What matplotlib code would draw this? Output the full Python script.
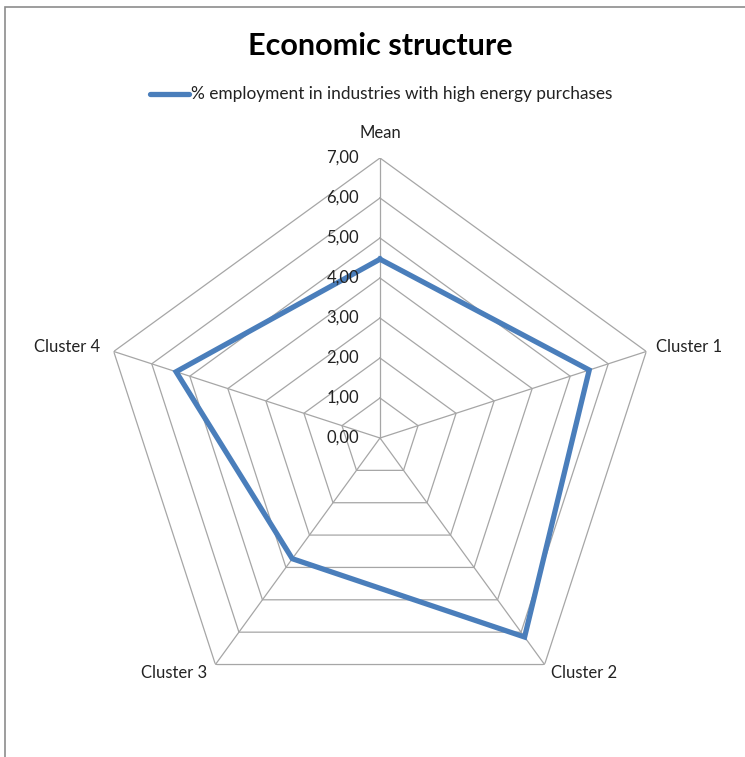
import numpy as np
import matplotlib
matplotlib.use("Agg")
import matplotlib.pyplot as plt
from matplotlib.patches import Rectangle

# Dati del grafico radar
categorie = ["Mean", "Cluster 1", "Cluster 2", "Cluster 3", "Cluster 4"]
valori = [4.47, 5.50, 6.15, 3.73, 5.36]
livelli = [0, 1, 2, 3, 4, 5, 6, 7]
etichette_livelli = ["0,00", "1,00", "2,00", "3,00", "4,00", "5,00", "6,00", "7,00"]
nome_serie = "% employment in industries with high energy purchases"
titolo = "Economic structure"

plt.rcParams['font.family'] = ['Lato', 'DejaVu Sans']

W, H = 745, 757
fig = plt.figure(figsize=(W / 100, H / 100), dpi=100)
fig.patch.set_facecolor("white")

# cornice del grafico (solo lato sinistro e superiore visibili)
fig.add_artist(Rectangle((5 / W, -0.05), 1.2, 1 - 7 / H + 0.05, transform=fig.transFigure,
                         fill=False, edgecolor="#8c8c8c", linewidth=1.2))

# assi polari centrati sul pentagono
cx, cy, r = 380, 438, 280
ax = fig.add_axes([(cx - r) / W, 1 - (cy + r) / H, 2 * r / W, 2 * r / H], projection="polar")
ax.set_theta_offset(np.pi / 2)
ax.set_theta_direction(-1)
ax.set_ylim(0, 7)
ax.grid(False)
ax.spines["polar"].set_visible(False)
ax.set_xticks([])
ax.set_yticks([])
ax.patch.set_alpha(0)

n = len(categorie)
angoli = np.linspace(0, 2 * np.pi, n, endpoint=False)
chiuso = np.append(angoli, angoli[0])

grigio = "#a6a6a6"
for liv in livelli[1:]:
    ax.plot(chiuso, [liv] * (n + 1), color=grigio, linewidth=0.9, zorder=1)
for a in angoli:
    ax.plot([a, a], [0, livelli[-1]], color=grigio, linewidth=0.9, zorder=1)

# serie
blu = "#4a7ebb"
v = valori + valori[:1]
ax.plot(chiuso, v, color=blu, linewidth=3.8, zorder=3, solid_joinstyle="miter")

# etichette dei livelli lungo l'asse verticale
for liv, lab in zip(livelli, etichette_livelli):
    y_pix = cy - liv * r / 7
    fig.text((cx - 21) / W, 1 - y_pix / H, lab, ha="right", va="center",
             fontsize=12, color="#222222")

# etichette delle categorie
pos_cat = [
    (cx, 133, "center"),
    (656, 347, "left"),
    (551, 673, "left"),
    (207, 673, "right"),
    (100, 347, "right"),
]
for (x, y, ha), nome in zip(pos_cat, categorie):
    fig.text(x / W, 1 - y / H, nome, ha=ha, va="center", fontsize=12, color="#222222")

# titolo e legenda
fig.text(380 / W, 1 - 46 / H, titolo, ha="center", va="center", fontsize=22,
         fontweight="bold", color="black")
fig.add_artist(plt.Line2D([150 / W, 189 / W], [1 - 94 / H, 1 - 94 / H], transform=fig.transFigure,
                          color=blu, linewidth=3.8, solid_capstyle="round"))
fig.text(191 / W, 1 - 94 / H, nome_serie, ha="left", va="center", fontsize=12.4, color="#222222")

fig.savefig("out.png", dpi=100, facecolor="white")
